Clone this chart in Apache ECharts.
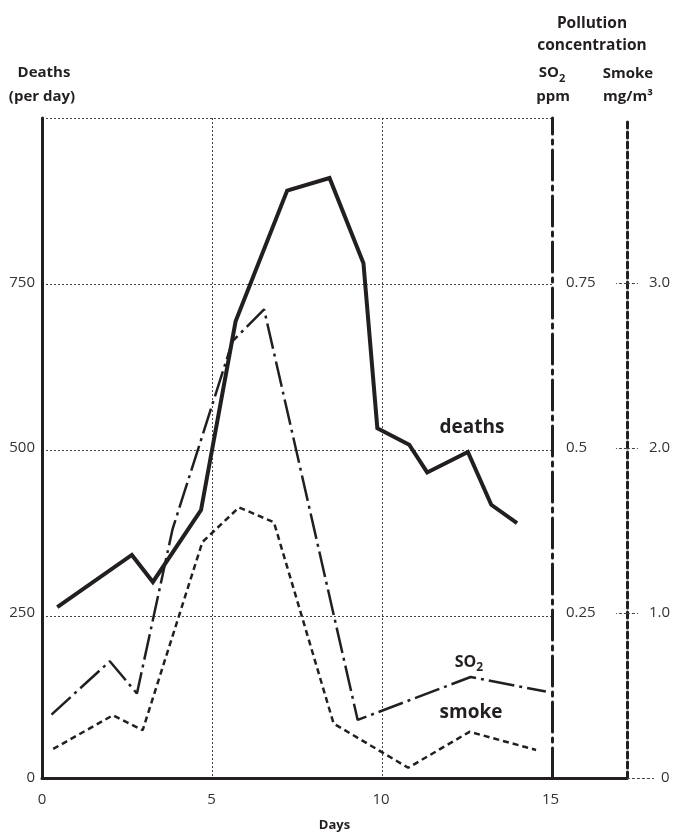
<!DOCTYPE html>
<html>
<head>
<meta charset="utf-8">
<script src="https://cdn.jsdelivr.net/npm/echarts@6/dist/echarts.min.js"></script>
<style>
  html, body { margin: 0; padding: 0; background: #fff; }
  #chart { width: 673px; height: 837px; }
</style>
</head>
<body>
<div id="chart"></div>
<script>
// London smog, December 1952
const deathDays = [0.45, 2.65, 3.27, 4.69, 5.71, 7.23, 8.48, 9.48, 9.89, 10.83, 11.36, 12.56, 13.25, 14.01]
const deathsPerDay = [259, 338, 297, 406, 692, 890, 909, 780, 530, 505, 463, 494, 414, 386]

const so2Days = [0.28, 2.0, 2.8, 3.85, 5.62, 6.55, 9.31, 12.64, 14.86]
const so2Ppm = [0.096, 0.177, 0.128, 0.377, 0.662, 0.71, 0.088, 0.153, 0.131]

const smokeDays = [0.33, 2.09, 2.97, 4.73, 5.81, 6.84, 8.6, 10.8, 12.61, 14.57]
const smokeMg = [0.176, 0.38, 0.29, 1.43, 1.64, 1.55, 0.33, 0.062, 0.28, 0.17]

const dayTicks = [0, 5, 10, 15]
const deathTicks = [0, 250, 500, 750]
const so2Ticks = [0.25, 0.5, 0.75]
const smokeTicks = [1, 2, 3]

const ink = '#231f20'
const font = '"Open Sans", "Noto Sans", sans-serif'
const gridDot = { color: '#444', width: 1, type: [2, 2] }

const pairs = (xs, ys) => xs.map((x, i) => [x, ys[i]])

const chart = echarts.init(document.getElementById('chart'), null, { renderer: 'canvas' })

const label = (text, x, y, size) => ({
    type: 'text',
    x: x,
    y: y,
    style: {
        text: text,
        fill: ink,
        align: 'center',
        verticalAlign: 'middle',
        fontFamily: font,
        fontSize: size,
        fontWeight: 'bold'
    }
})

// "SO" with a lowered subscript 2
const so2Label = (x, y, size) => ({
    type: 'text',
    x: x,
    y: y,
    style: {
        text: '{a|SO}{b|2}',
        align: 'center',
        verticalAlign: 'middle',
        rich: {
            a: { fill: ink, fontFamily: font, fontWeight: 'bold', fontSize: size, verticalAlign: 'bottom', padding: [0, 0, 4, 0] },
            b: { fill: ink, fontFamily: font, fontWeight: 'bold', fontSize: Math.round(size * 0.72), verticalAlign: 'bottom' }
        }
    }
})

const option = {
    backgroundColor: '#fff',
    animation: false,
    textStyle: { fontFamily: font },
    grid: [
        { left: 42, right: 45, top: 118, bottom: 55 },
        // grid lines only run up to the SO2 axis
        { left: 42, width: 511, top: 118, bottom: 55 }
    ],
    xAxis: [
        {
            gridIndex: 0,
            type: 'value',
            min: 0,
            max: 17.25,
            interval: 5,
            axisLine: { lineStyle: { color: ink, width: 3 } },
            axisTick: { show: false },
            splitLine: { show: false },
            axisLabel: { customValues: dayTicks, color: '#333', fontSize: 15, margin: 14 },
            name: 'Days',
            nameLocation: 'middle',
            nameGap: 41,
            nameTextStyle: { color: ink, fontSize: 13, fontWeight: 'bold' }
        },
        {
            gridIndex: 1,
            type: 'value',
            min: 0,
            max: 15,
            interval: 5,
            axisLine: { show: false },
            axisTick: { show: false },
            axisLabel: { show: false },
            splitLine: { show: true, showMinLine: false, showMaxLine: false, lineStyle: gridDot }
        }
    ],
    yAxis: [
        {
            // deaths
            gridIndex: 0,
            type: 'value',
            position: 'left',
            min: 0,
            max: 1000,
            interval: 250,
            axisLine: { show: true, lineStyle: { color: ink, width: 3 } },
            axisTick: { show: false },
            splitLine: { show: false },
            axisLabel: { customValues: deathTicks, color: '#333', fontSize: 15, margin: 7 }
        },
        {
            // SO2 ppm
            gridIndex: 0,
            type: 'value',
            position: 'right',
            offset: -75,
            min: 0,
            max: 1,
            interval: 0.25,
            axisLine: { show: true, lineStyle: { color: ink, width: 3, type: [30, 6, 4, 6] } },
            axisTick: { show: false },
            splitLine: { show: false },
            axisLabel: { customValues: so2Ticks, color: '#333', fontSize: 15, margin: 14 }
        },
        {
            // smoke mg/m3
            gridIndex: 0,
            type: 'value',
            position: 'right',
            min: 0,
            max: 4,
            interval: 1,
            axisLine: { show: true, lineStyle: { color: ink, width: 3, type: [6, 4] } },
            axisTick: { show: true, customValues: smokeTicks, length: 11, lineStyle: { color: '#444', width: 1, type: [3, 2] } },
            splitLine: { show: false },
            axisLabel: { customValues: smokeTicks, color: '#333', fontSize: 15, margin: 22, formatter: v => v.toFixed(1) }
        },
        {
            // inner half of the smoke ticks
            gridIndex: 0,
            type: 'value',
            position: 'right',
            min: 0,
            max: 4,
            interval: 1,
            axisLine: { show: false },
            axisTick: { show: true, inside: true, customValues: smokeTicks, length: 11, lineStyle: { color: '#444', width: 1, type: [3, 2] } },
            axisLabel: { show: false },
            splitLine: { show: false }
        },
        {
            // the zero tick of the smoke scale
            gridIndex: 0,
            type: 'value',
            position: 'right',
            min: 0,
            max: 4,
            interval: 1,
            axisLine: { show: false },
            axisTick: { show: true, customValues: [0], length: 27, lineStyle: { color: '#444', width: 1, type: [3, 2] } },
            axisLabel: { customValues: [0], color: '#333', fontSize: 15, margin: 34 },
            splitLine: { show: false }
        },
        {
            gridIndex: 1,
            type: 'value',
            min: 0,
            max: 1000,
            interval: 250,
            axisLine: { show: false },
            axisTick: { show: false },
            axisLabel: { show: false },
            splitLine: { show: true, showMinLine: false, lineStyle: gridDot }
        }
    ],
    series: [
        {
            name: 'deaths',
            type: 'line',
            xAxisIndex: 0,
            yAxisIndex: 0,
            symbol: 'none',
            z: 5,
            lineStyle: { color: ink, width: 4, join: 'miter' },
            data: pairs(deathDays, deathsPerDay)
        },
        {
            name: 'SO2',
            type: 'line',
            xAxisIndex: 0,
            yAxisIndex: 1,
            symbol: 'none',
            z: 4,
            lineStyle: { color: ink, width: 2.5, type: [26, 5, 3, 5] },
            data: pairs(so2Days, so2Ppm)
        },
        {
            name: 'smoke',
            type: 'line',
            xAxisIndex: 0,
            yAxisIndex: 2,
            symbol: 'none',
            z: 4,
            lineStyle: { color: ink, width: 2.5, type: [6, 4] },
            data: pairs(smokeDays, smokeMg)
        }
    ],
    graphic: [
        label('Deaths', 44, 73, 15),
        label('(per day)', 42, 97, 15),
        label('Pollution', 592, 24, 15.5),
        label('concentration', 592, 46, 15.5),
        so2Label(552, 75, 15),
        label('ppm', 553, 97, 15),
        label('Smoke', 628, 74, 15),
        label('mg/m³', 628, 97, 15),
        label('deaths', 472, 428, 19),
        so2Label(469, 664, 16),
        label('smoke', 471, 713, 19)
    ]
}

chart.setOption(option)
window.addEventListener('resize', () => chart.resize())
</script>
</body>
</html>
